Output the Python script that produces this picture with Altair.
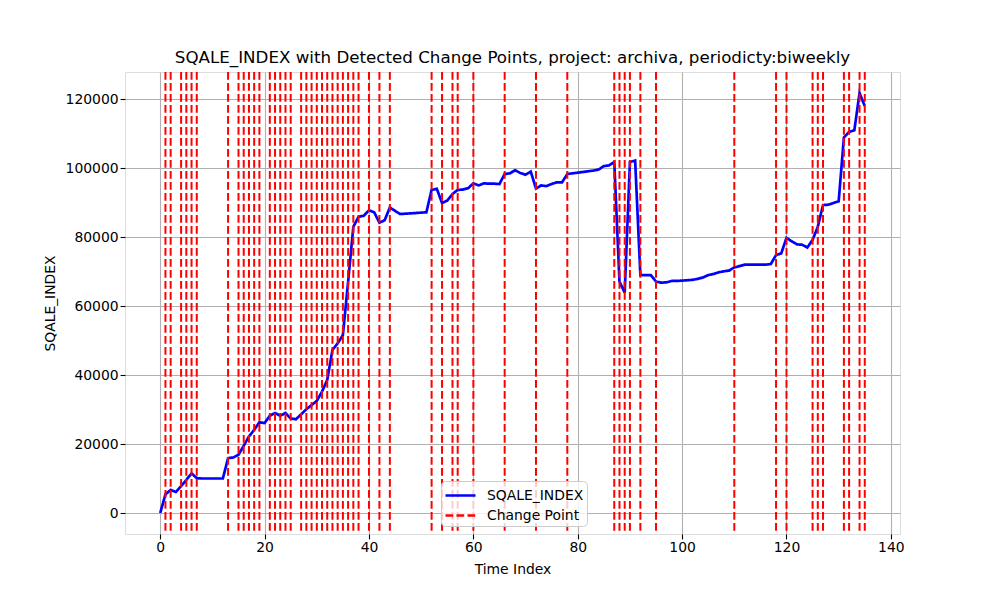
import altair as alt
import pandas as pd

values = [
    0, 5400, 6700, 6100, 7800, 9600, 11500, 10100, 10000, 10000,
    10000, 10000, 10000, 15900, 16100, 16900, 19500, 22200, 24100, 26300,
    26100, 28200, 29000, 28200, 29000, 27400, 27200, 28600, 30100, 31300,
    32500, 35200, 38600, 47300, 49200, 51600, 67000, 83000, 85900, 86200,
    87800, 87200, 84200, 84900, 88600, 87600, 86700, 86800, 86900, 87000,
    87100, 87200, 93700, 94000, 89900, 90600, 92500, 93700, 93800, 94200,
    95600, 95000, 95600, 95500, 95500, 95400, 98300, 98500, 99400, 98600,
    98100, 99000, 94100, 95000, 94800, 95400, 95900, 95900, 98300, 98500,
    98700, 98900, 99100, 99300, 99600, 100600, 100800, 101800, 67100, 63900,
    101800, 102200, 69000, 69000, 69000, 67100, 66800, 66900, 67300, 67300,
    67400, 67500, 67600, 67900, 68300, 69000, 69300, 69800, 70100, 70300,
    71200, 71600, 72000, 72000, 72000, 72000, 72000, 72200, 74800, 75300,
    79800, 78800, 77900, 77800, 77000, 79200, 83000, 89300, 89400, 89900,
    90400, 108900, 110500, 111000, 121800, 118000,
]
time_index = list(range(len(values)))

change_points = [1, 2, 4, 5, 6, 7, 13, 15, 16, 17, 18, 19, 21, 22, 23, 24, 25,
                 27, 28, 29, 30, 31, 32, 33, 34, 35, 36, 37, 38, 40, 42, 44,
                 52, 54, 56, 57, 60, 66, 72, 78, 87, 88, 89, 90, 92, 95, 110,
                 118, 120, 125, 126, 127, 131, 132, 134, 135]

series_names = ["SQALE_INDEX", "Change Point"]
x_ticks = [0, 20, 40, 60, 80, 100, 120, 140]
y_ticks = [0, 20000, 40000, 60000, 80000, 100000, 120000]

df = pd.DataFrame({"t": time_index, "v": values, "series": series_names[0]})
cp = pd.DataFrame({"t": change_points, "series": series_names[1]})

xmin, xmax = min(time_index), max(time_index)
xr = xmax - xmin
ymin, ymax = min(values), max(values)
yr = ymax - ymin
xdom = [xmin - 0.05 * xr, xmax + 0.05 * xr]
ydom = [ymin - 0.05 * yr, ymax + 0.05 * yr]

FONT = "DejaVu Sans"

color_scale = alt.Scale(domain=series_names, range=["#0000ff", "#ff0000"])
dash_scale = alt.Scale(domain=series_names, range=[[1, 0], [7.7, 3.3]])
legend = alt.Legend(title=None)

xenc = alt.X("t:Q", scale=alt.Scale(domain=xdom, nice=False, zero=False),
             axis=alt.Axis(values=x_ticks, title="Time Index", format="d"))

line = alt.Chart(df).mark_line(strokeWidth=2.7, clip=True).encode(
    x=xenc,
    y=alt.Y("v:Q", scale=alt.Scale(domain=ydom, nice=False, zero=False),
            axis=alt.Axis(values=y_ticks, title="SQALE_INDEX", format="d")),
    color=alt.Color("series:N", scale=color_scale, legend=legend),
    strokeDash=alt.StrokeDash("series:N", scale=dash_scale, legend=legend),
)

rules = alt.Chart(cp).mark_rule(strokeWidth=2).encode(
    x=alt.X("t:Q"),
    color=alt.Color("series:N", scale=color_scale, legend=legend),
    strokeDash=alt.StrokeDash("series:N", scale=dash_scale, legend=legend),
)

chart = alt.layer(line, rules).properties(
    width=775,
    height=462,
    title=alt.TitleParams(
        "SQALE_INDEX with Detected Change Points, project: archiva, periodicty:biweekly",
        font=FONT, fontSize=16.7, fontWeight="normal", color="black",
        anchor="middle", offset=4,
    ),
    autosize=alt.AutoSizeParams(type="none"),
    padding={"left": 117, "top": 64, "right": 92, "bottom": 58},
).configure_view(
    stroke="black", strokeWidth=1.1, fill="white"
).configure(
    background="white"
).configure_axis(
    domain=False,
    grid=True,
    gridColor="#b0b0b0",
    gridWidth=1.1,
    tickColor="black",
    tickSize=4.9,
    tickWidth=1.1,
    labelFont=FONT,
    labelFontSize=13.9,
    labelColor="black",
    labelPadding=2,
    titleFont=FONT,
    titleFontSize=13.9,
    titleFontWeight="normal",
    titleColor="black",
).configure_axisX(
    titlePadding=8, labelFlush=False
).configure_axisY(
    titlePadding=8, labelFlush=False
).configure_legend(
    orient="none",
    legendX=316,
    legendY=409,
    fillColor="rgba(255,255,255,0.8)",
    strokeColor="#cccccc",
    cornerRadius=4,
    padding=3,
    symbolType="M-1,0H2",
    symbolSize=400,
    symbolStrokeWidth=2.7,
    labelFont=FONT,
    labelFontSize=13.9,
    labelColor="black",
    labelOffset=20,
    rowPadding=1,
)

chart.save("out.html", embed_options={"renderer": "svg", "actions": False})
